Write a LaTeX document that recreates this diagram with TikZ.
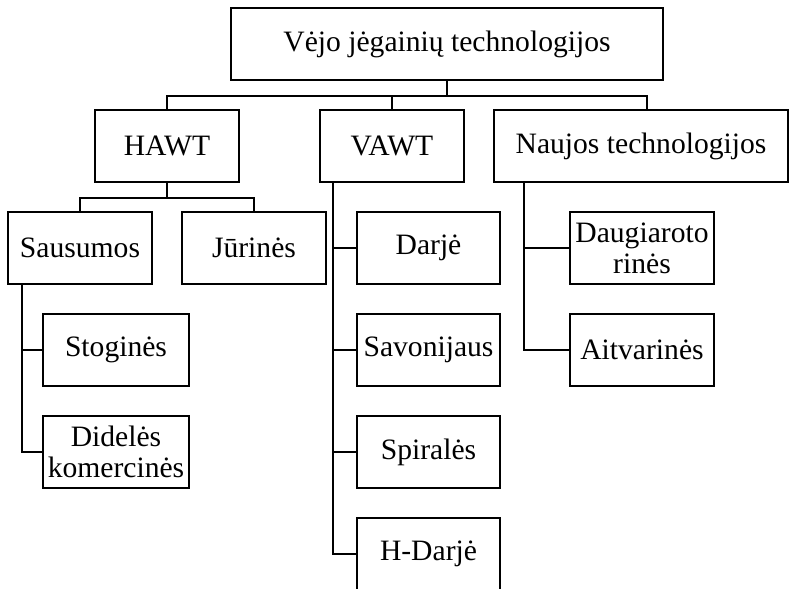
\documentclass[tikz,border=0pt]{standalone}
\usepackage{fontspec}
\setmainfont{Liberation Serif}
\begin{document}
\begin{tikzpicture}[x=1pt,y=-1pt,line width=2pt,
  box/.style={draw,line width=2pt,minimum width=144pt,minimum height=72pt,
    inner sep=2pt,align=center,font=\fontsize{29.6}{31}\selectfont}]
\useasboundingbox (0,0) rectangle (790,589);

% top level
\node[box,minimum width=432pt] (root) at (447,44) {Vėjo jėgainių technologijos};
\node[box] (hawt) at (167,146) {HAWT};
\node[box] (vawt) at (392,146) {VAWT};
\node[box,minimum width=294pt] (naujos) at (641,146) {Naujos technologijos};

% HAWT
\node[box] (sausumos) at (80,248) {Sausumos};
\node[box] (jurines) at (254,248) {Jūrinės};
\node[box,minimum width=146pt] (stogines) at (116,350) {Stoginės};
\node[box,minimum width=146pt] (dideles) at (116,452) {Didelės\\komercinės};

% VAWT
\node[box,minimum width=143pt] (darje) at (428.5,248) {Darjė};
\node[box,minimum width=143pt] (savonijaus) at (428.5,350) {Savonijaus};
\node[box,minimum width=143pt] (spirales) at (428.5,452) {Spiralės};
\node[box,minimum width=143pt] (hdarje) at (428.5,554) {H-Darjė};

% naujos
\node[box] (daugiaroto) at (642,248) {Daugiaroto\\rinės};
\node[box] (aitvarines) at (642,350) {Aitvarinės};

\draw (root.south) -- ++(0,15) -| (hawt.north);
\draw (root.south) -- ++(0,15) -| (vawt.north);
\draw (root.south) -- ++(0,15) -| ([xshift=6pt]naujos.north);

\draw (hawt.south) -- ++(0,15) -| (sausumos.north);
\draw (hawt.south) -- ++(0,15) -| (jurines.north);

\foreach \n in {stogines,dideles}
  \draw ([xshift=15pt]sausumos.south west) |- (\n.west);

\foreach \n in {darje,savonijaus,spirales,hdarje}
  \draw ([xshift=14pt]vawt.south west) |- (\n.west);

\foreach \n in {daugiaroto,aitvarines}
  \draw ([xshift=31pt]naujos.south west) |- (\n.west);
\end{tikzpicture}
\end{document}
